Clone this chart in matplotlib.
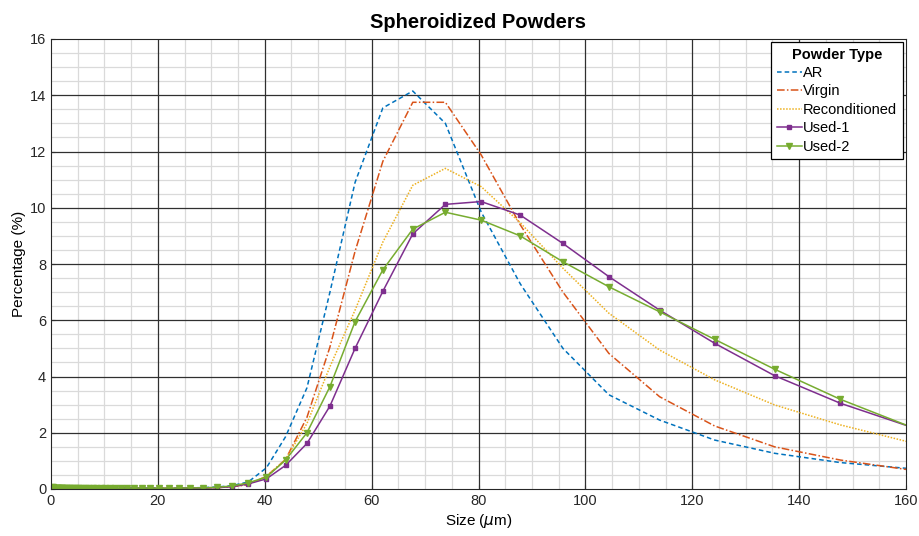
import matplotlib
matplotlib.use("Agg")
import matplotlib.pyplot as plt
from matplotlib.ticker import MultipleLocator, FixedLocator

plt.rcParams['font.family'] = ['Liberation Sans', 'DejaVu Sans']

# Particle size bins (um)
sizes = [0.2, 0.4, 0.6, 0.8, 1.0, 1.1, 1.2, 1.3, 1.4, 1.5,
         1.7, 1.8, 2.0, 2.1, 2.3, 2.5, 2.8, 3.0, 3.3, 3.6,
         3.9, 4.3, 4.7, 5.1, 5.5, 6.0, 6.6, 7.2, 7.8, 8.5,
         9.3, 10.1, 11.0, 12.0, 13.1, 14.3, 15.6, 17.0, 18.5, 20.2,
         22.0, 24.0, 26.1, 28.5, 31.1, 33.9, 36.9, 40.3, 43.9, 47.9,
         52.2, 56.9, 62.1, 67.7, 73.8, 80.5, 87.8, 95.8, 104.4, 113.9,
         124.2, 135.4, 147.7, 161.0]

ar = [0.03, 0.04, 0.04, 0.03, 0.03, 0.02, 0.02, 0.02, 0.02, 0.02,
      0.02, 0.01, 0.01, 0.01, 0.01, 0.01, 0.01, 0.01, 0.01, 0.01,
      0.01, 0.01, 0.01, 0.01, 0.01, 0.01, 0.01, 0.01, 0.01, 0.01,
      0.02, 0.02, 0.02, 0.02, 0.03, 0.03, 0.03, 0.03, 0.03, 0.03,
      0.03, 0.03, 0.04, 0.05, 0.07, 0.12, 0.25, 0.75, 1.86, 3.60,
      7.00, 10.90, 13.55, 14.15, 13.00, 9.85, 7.30, 5.00, 3.35, 2.45,
      1.74, 1.27, 0.94, 0.72]

virgin = [0.02, 0.03, 0.03, 0.03, 0.02, 0.02, 0.02, 0.02, 0.02, 0.02,
          0.01, 0.01, 0.01, 0.01, 0.01, 0.01, 0.01, 0.01, 0.01, 0.01,
          0.01, 0.01, 0.01, 0.01, 0.01, 0.01, 0.01, 0.01, 0.01, 0.01,
          0.01, 0.02, 0.02, 0.02, 0.02, 0.02, 0.02, 0.02, 0.02, 0.02,
          0.02, 0.03, 0.03, 0.04, 0.05, 0.08, 0.15, 0.45, 1.05, 2.55,
          5.05, 8.45, 11.65, 13.75, 13.75, 11.88, 9.40, 7.00, 4.82, 3.28,
          2.24, 1.50, 1.03, 0.67]

reconditioned = [0.02, 0.03, 0.03, 0.03, 0.02, 0.02, 0.02, 0.02, 0.02, 0.02,
                 0.02, 0.01, 0.01, 0.01, 0.01, 0.01, 0.01, 0.01, 0.01, 0.01,
                 0.01, 0.01, 0.01, 0.01, 0.01, 0.01, 0.01, 0.01, 0.01, 0.01,
                 0.01, 0.02, 0.02, 0.02, 0.02, 0.02, 0.02, 0.02, 0.02, 0.02,
                 0.02, 0.03, 0.03, 0.04, 0.05, 0.08, 0.17, 0.45, 1.05, 2.33,
                 4.35, 6.36, 8.78, 10.80, 11.40, 10.75, 9.47, 7.85, 6.25, 4.94,
                 3.88, 2.99, 2.28, 1.65]

used1 = [0.03, 0.03, 0.03, 0.03, 0.02, 0.02, 0.02, 0.02, 0.02, 0.02,
         0.02, 0.02, 0.01, 0.01, 0.01, 0.01, 0.01, 0.01, 0.01, 0.01,
         0.01, 0.01, 0.01, 0.01, 0.01, 0.01, 0.01, 0.01, 0.01, 0.01,
         0.01, 0.01, 0.02, 0.02, 0.02, 0.02, 0.02, 0.02, 0.02, 0.02,
         0.02, 0.02, 0.03, 0.03, 0.05, 0.08, 0.18, 0.36, 0.84, 1.62,
         2.95, 5.00, 7.03, 9.07, 10.12, 10.22, 9.74, 8.73, 7.55, 6.36,
         5.18, 4.03, 3.05, 2.20]

used2 = [0.06, 0.06, 0.05, 0.05, 0.05, 0.04, 0.04, 0.04, 0.04, 0.03,
         0.03, 0.03, 0.03, 0.03, 0.02, 0.02, 0.02, 0.02, 0.02, 0.02,
         0.02, 0.02, 0.02, 0.02, 0.02, 0.02, 0.02, 0.02, 0.02, 0.02,
         0.02, 0.02, 0.02, 0.02, 0.03, 0.03, 0.03, 0.03, 0.03, 0.03,
         0.03, 0.03, 0.04, 0.04, 0.06, 0.11, 0.22, 0.42, 1.03, 2.00,
         3.64, 5.95, 7.79, 9.24, 9.84, 9.56, 9.00, 8.08, 7.19, 6.30,
         5.32, 4.26, 3.19, 2.20]

series_names = ['AR', 'Virgin', 'Reconditioned', 'Used-1', 'Used-2']

fig = plt.figure(figsize=(9.2, 5.36), dpi=100)
ax = fig.add_axes([51/920, 47/536, 855/920, 450/536])

ax.plot(sizes, ar, color='#0072BD', ls=(0, (3, 2)), lw=1.1, label=series_names[0])
ax.plot(sizes, virgin, color='#D95319', ls=(0, (5, 1.5, 1, 1.5)), lw=1.1, label=series_names[1])
ax.plot(sizes, reconditioned, color='#EDB120', ls=(0, (1, 1)), lw=1.1, label=series_names[2])
ax.plot(sizes, used1, color='#7E2F8E', ls='-', lw=1.1, marker='s', ms=3.5, label=series_names[3])
ax.plot(sizes, used2, color='#77AC30', ls='-', lw=1.1, marker='v', ms=4.5, label=series_names[4])

ax.set_xlim(0, 160)
ax.set_ylim(0, 16)
ax.xaxis.set_major_locator(MultipleLocator(20))
ax.xaxis.set_minor_locator(FixedLocator([v for v in range(5, 160, 5) if v % 20]))
ax.yaxis.set_major_locator(MultipleLocator(2))
ax.yaxis.set_minor_locator(FixedLocator([k * 0.5 for k in range(1, 32) if k % 4]))
ax.grid(which='minor', color='#dadada', lw=0.9)
ax.set_axisbelow(True)
# major grid drawn above the minor grid, below the data
for xv in ax.get_xticks():
    if 0 < xv < 160:
        ax.axvline(xv, color='#303030', lw=0.9, zorder=0.8)
for yv in ax.get_yticks():
    if 0 < yv < 16:
        ax.axhline(yv, color='#303030', lw=0.9, zorder=0.8)

ax.tick_params(which='both', direction='in', labelsize=10.5, colors='#262626')
ax.tick_params(which='minor', length=0)
ax.tick_params(which='major', length=3)
for sp in ax.spines.values():
    sp.set_color('#262626')

ax.set_title('Spheroidized Powders', fontsize=14.5, fontweight='bold', pad=8)
ax.set_xlabel('Size ($\\mu$m)', fontsize=11, labelpad=3)
ax.set_ylabel('Percentage (%)', fontsize=11, labelpad=3)

leg = ax.legend(loc='upper right', title='Powder Type', fontsize=10.5,
                title_fontproperties={'weight': 'bold', 'size': 10.5},
                fancybox=False, framealpha=1, edgecolor='black',
                handlelength=1.7, handletextpad=0.1, borderaxespad=0.2,
                labelspacing=0.3, borderpad=0.4)
leg.get_frame().set_linewidth(0.9)
leg.set_zorder(5)

fig.savefig('out.png', dpi=100)
